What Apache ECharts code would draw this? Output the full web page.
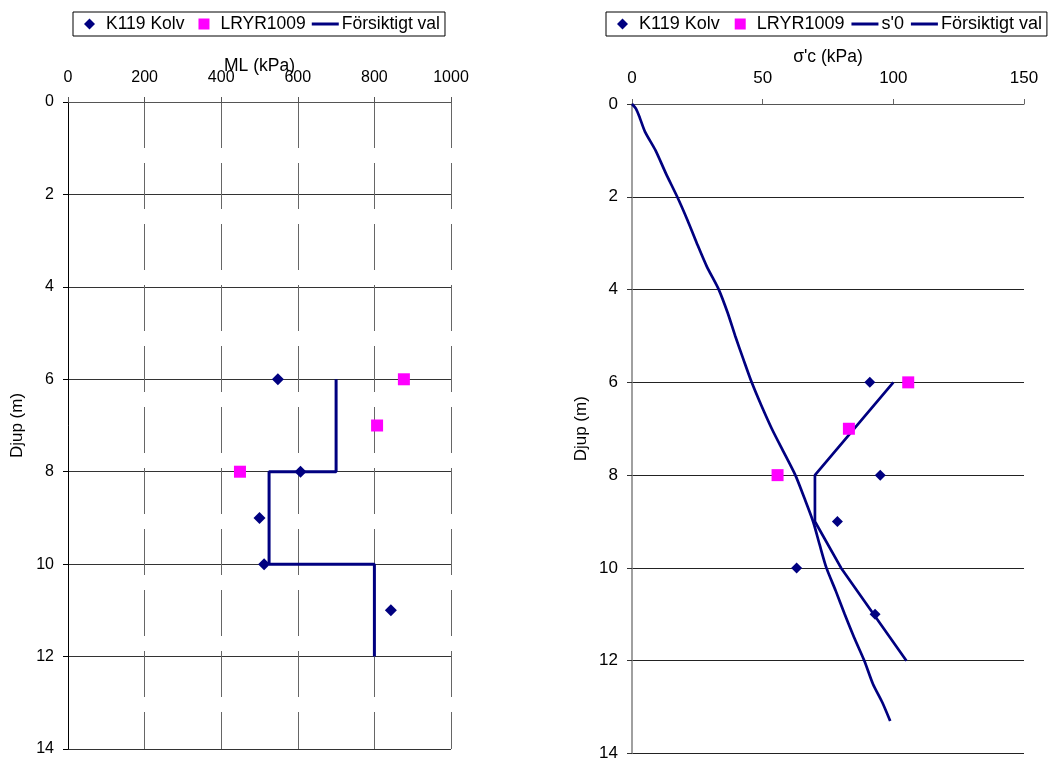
<!DOCTYPE html>
<html>
<head>
<meta charset="utf-8">
<script src="https://cdn.jsdelivr.net/npm/echarts@6/dist/echarts.min.js"></script>
<style>
html,body{margin:0;padding:0;background:#fff;}
#chart{width:1050px;height:762px;}
</style>
</head>
<body>
<div id="chart"></div>
<script>
// ---------- Data ----------
// Left chart: ML (kPa) vs depth (m)
const k119Depth = [6, 8, 9, 10, 11];
const k119ML = [548, 607, 500, 512, 843];
const lryrDepth = [6, 7, 8];
const lryrML = [877, 807, 449];
const fvMLDepth = [6, 8, 8, 10, 10, 12];
const fvML = [700, 700, 525, 525, 800, 800];

// Right chart: sigma'c (kPa) vs depth (m)
const k119SC = [91, 95, 78.6, 63, 93];
const lryrSC = [105.7, 83, 55.7];
const fvSCDepth = [6, 8, 9, 10, 12];
const fvSC = [100, 70, 70, 80, 105];
const s0Depth = [0, 0.1, 0.3, 0.6, 1.0, 1.5, 2.0, 2.5, 3.0, 3.5, 4.0, 4.5, 5.0, 5.5, 6.0, 6.5, 7.0, 7.5, 8.0, 8.5, 9.0, 9.5, 10.0, 10.5, 11.0, 11.5, 12.0, 12.5, 12.9, 13.3];
const s0Val =   [0, 1.5, 3.0, 5.0, 9.0, 13.0, 17.3, 21.2, 24.8, 28.6, 33.2, 36.6, 39.5, 42.6, 45.8, 49.5, 53.5, 58.0, 62.5, 66.0, 69.3, 71.8, 74.4, 78.0, 81.4, 85.0, 88.9, 92.2, 95.8, 98.8];

const pairs = (xs, ys) => xs.map((x, i) => [x, ys[i]]);

const NAVY = '#000080';
const MAGENTA = '#FF00FF';
const FONT = 'Liberation Sans, Arial, sans-serif';

// legend icons drawn inside a 27x11 box (move-to points fix the box)
const ICON_DIAMOND = 'path://M0,0M27,11M13.5,0L19,5.5L13.5,11L8,5.5Z';
const ICON_SQUARE = 'path://M0,0M27,11M8,0H19V11H8Z';
const ICON_LINE = 'path://M0,0M27,11M0,4H27V7H0Z';

const chart = echarts.init(document.getElementById('chart'), null, {renderer: 'canvas'});

const legendCommon = {
  top: 12,
  orient: 'horizontal',
  itemWidth: 27,
  itemHeight: 11,
  itemGap: 6,
  padding: [3, 5, 3, 3],
  borderColor: '#000',
  borderWidth: 1,
  backgroundColor: '#fff',
  selectedMode: false,
  symbolKeepAspect: true,
  textStyle: {fontFamily: FONT, fontSize: 17.5, color: '#000', padding: [0, 0, 0, -2]}
};

const legendItems = {
  'K119 Kolv': {name: 'K119 Kolv', icon: ICON_DIAMOND, itemStyle: {color: NAVY, opacity: 1}},
  'LRYR1009': {name: 'LRYR1009', icon: ICON_SQUARE, itemStyle: {color: MAGENTA, opacity: 1}},
  "s'0": {name: "s'0", icon: ICON_LINE, itemStyle: {color: NAVY}},
  'Försiktigt val': {name: 'Försiktigt val', icon: ICON_LINE, itemStyle: {color: NAVY}}
};

const axisNameStyle = {fontFamily: FONT, fontSize: 17.5, color: '#000'};

const option = {
  animation: false,
  backgroundColor: '#fff',
  legend: [
    Object.assign({}, legendCommon, {left: 73, data: [legendItems['K119 Kolv'], legendItems['LRYR1009'], legendItems['Försiktigt val']]}),
    Object.assign({}, legendCommon, {left: 606, itemGap: 7,
      textStyle: {fontFamily: FONT, fontSize: 18, color: '#000', padding: [0, 0, 0, -2]},
      data: [legendItems['K119 Kolv'], legendItems['LRYR1009'], legendItems["s'0"], legendItems['Försiktigt val']]})
  ],
  grid: [
    {left: 68, top: 102, width: 383, height: 647},
    {left: 632, top: 104, width: 392, height: 654}
  ],
  xAxis: [
    {
      gridIndex: 0, type: 'value', position: 'top', min: 0, max: 1000, interval: 200,
      name: 'ML (kPa)', nameLocation: 'middle', nameGap: 27, nameMoveOverlap: false,
      nameTextStyle: axisNameStyle,
      axisLine: {show: true, lineStyle: {color: '#555', width: 1}},
      axisTick: {show: true, inside: false, length: 5, lineStyle: {color: '#555'}},
      axisLabel: {margin: 16, fontFamily: FONT, fontSize: 16, color: '#000', formatter: v => String(v)},
      splitLine: {show: true, lineStyle: {color: '#666', width: 1, type: [46, 15]}}
    },
    {
      gridIndex: 1, type: 'value', position: 'top', min: 0, max: 150, interval: 50,
      name: "σ'c (kPa)", nameLocation: 'middle', nameGap: 38, nameMoveOverlap: false,
      nameTextStyle: axisNameStyle,
      axisLine: {show: true, lineStyle: {color: '#555', width: 1}},
      axisTick: {show: true, inside: false, length: 5, lineStyle: {color: '#666'}},
      axisLabel: {margin: 17, fontFamily: FONT, fontSize: 17, color: '#000', formatter: v => String(v)},
      splitLine: {show: false}
    }
  ],
  yAxis: [
    {
      gridIndex: 0, type: 'value', inverse: true, min: 0, max: 14, interval: 2,
      name: 'Djup (m)', nameLocation: 'middle', nameGap: 42, nameRotate: 90, nameMoveOverlap: false,
      nameTextStyle: {fontFamily: FONT, fontSize: 17, color: '#000'},
      axisLine: {show: true, lineStyle: {color: '#000', width: 1}},
      axisTick: {show: true, length: 5, lineStyle: {color: '#000'}},
      axisLabel: {margin: 14, fontFamily: FONT, fontSize: 16, color: '#000'},
      splitLine: {show: true, lineStyle: {color: '#333', width: 1}}
    },
    {
      gridIndex: 1, type: 'value', inverse: true, min: 0, max: 14, interval: 2,
      name: 'Djup (m)', nameLocation: 'middle', nameGap: 42, nameRotate: 90, nameMoveOverlap: false,
      nameTextStyle: {fontFamily: FONT, fontSize: 17, color: '#000'},
      axisLine: {show: true, lineStyle: {color: '#808080', width: 1.5}},
      axisTick: {show: true, length: 5, lineStyle: {color: '#333'}},
      axisLabel: {margin: 14, fontFamily: FONT, fontSize: 17, color: '#000'},
      splitLine: {show: true, lineStyle: {color: '#222', width: 1}}
    }
  ],
  series: [
    {
      name: 'Försiktigt val', type: 'line', xAxisIndex: 0, yAxisIndex: 0,
      data: pairs(fvML, fvMLDepth), symbol: 'none', showSymbol: false,
      lineStyle: {color: NAVY, width: 3}, itemStyle: {color: NAVY}, z: 3
    },
    {
      name: 'K119 Kolv', type: 'scatter', xAxisIndex: 0, yAxisIndex: 0,
      data: pairs(k119ML, k119Depth), symbol: 'diamond', symbolSize: 12,
      itemStyle: {color: NAVY, opacity: 1}, z: 4
    },
    {
      name: 'LRYR1009', type: 'scatter', xAxisIndex: 0, yAxisIndex: 0,
      data: pairs(lryrML, lryrDepth), symbol: 'rect', symbolSize: 12,
      itemStyle: {color: MAGENTA, opacity: 1}, z: 4
    },
    {
      name: "s'0", type: 'line', xAxisIndex: 1, yAxisIndex: 1,
      data: pairs(s0Val, s0Depth), symbol: 'none', showSymbol: false, smooth: 0.25,
      lineStyle: {color: NAVY, width: 2.7}, itemStyle: {color: NAVY}, z: 3
    },
    {
      name: 'Försiktigt val', type: 'line', xAxisIndex: 1, yAxisIndex: 1,
      data: pairs(fvSC, fvSCDepth), symbol: 'none', showSymbol: false,
      lineStyle: {color: NAVY, width: 2.7}, itemStyle: {color: NAVY}, z: 3
    },
    {
      name: 'K119 Kolv', type: 'scatter', xAxisIndex: 1, yAxisIndex: 1,
      data: pairs(k119SC, k119Depth), symbol: 'diamond', symbolSize: 11,
      itemStyle: {color: NAVY, opacity: 1}, z: 4
    },
    {
      name: 'LRYR1009', type: 'scatter', xAxisIndex: 1, yAxisIndex: 1,
      data: pairs(lryrSC, lryrDepth), symbol: 'rect', symbolSize: 12,
      itemStyle: {color: MAGENTA, opacity: 1}, z: 4
    }
  ]
};
chart.setOption(option);
</script>
</body>
</html>
